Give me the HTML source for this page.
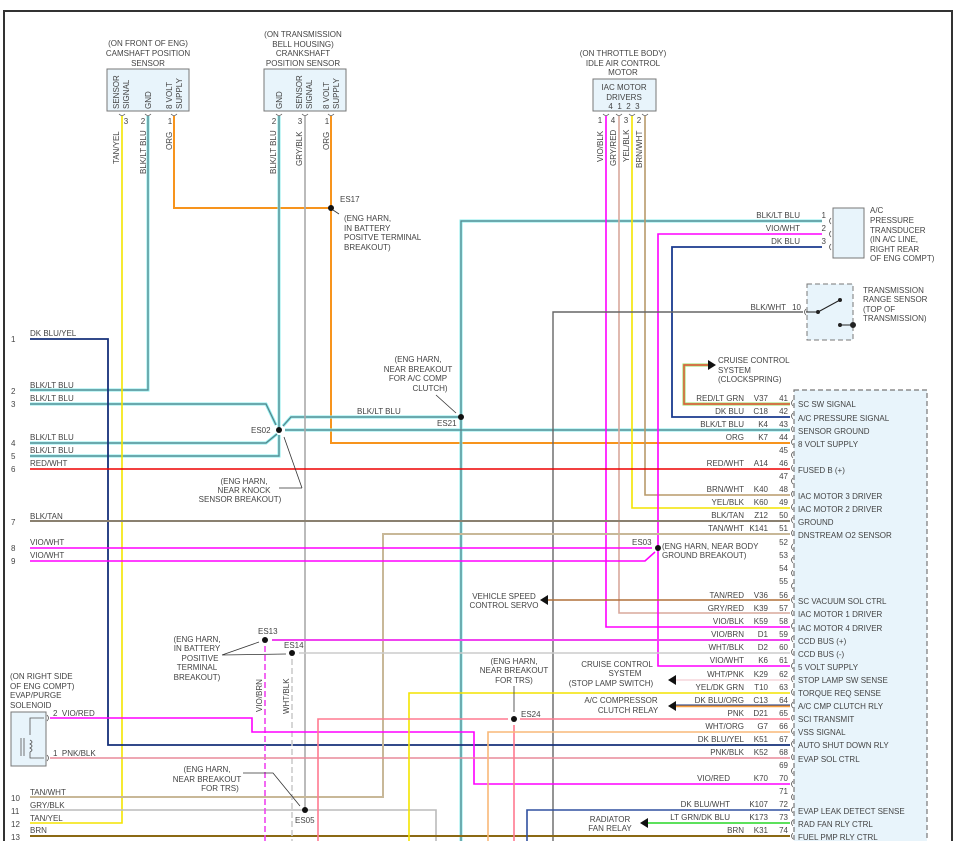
<!DOCTYPE html>
<html><head><meta charset="utf-8"><style>
html,body{margin:0;padding:0;background:#fff}
svg{display:block}
text{font-family:"Liberation Sans",sans-serif;font-size:8px;fill:#444}
</style></head><body>
<svg width="962" height="841" viewBox="0 0 962 841" xmlns="http://www.w3.org/2000/svg">
<rect x="0" y="0" width="962" height="841" fill="#fff"/>
<path d="M4 845 V11 H952 V845" fill="none" stroke="#333" stroke-width="2"/>

<!-- PCM box -->
<rect x="794" y="390" width="133" height="460" fill="#e8f4fb" stroke="#777" stroke-width="1.2" stroke-dasharray="5,3"/>

<!-- sensor boxes -->
<rect x="107" y="69" width="82" height="42" fill="#e8f4fb" stroke="#777"/>
<rect x="264" y="69" width="82" height="42" fill="#e8f4fb" stroke="#777"/>
<rect x="593" y="79" width="63" height="32" fill="#e8f4fb" stroke="#777"/>
<rect x="833" y="208" width="31" height="50" fill="#e8f4fb" stroke="#777"/>
<rect x="807" y="284" width="46" height="56" fill="#e8f4fb" stroke="#777" stroke-dasharray="5,3"/>
<rect x="11" y="712" width="35" height="54" fill="#e8f4fb" stroke="#777"/>

<g fill="none" stroke-linejoin="miter">
<!-- orange -->
<path d="M174 116 V208 H331" stroke="#f7941d" stroke-width="2"/>
<path d="M331 116 V443 H790" stroke="#f7941d" stroke-width="2"/>
<!-- teal BLK/LT BLU -->
<g stroke="#8ee" stroke-width="3">
<path d="M148 116 V390 H30"/><path d="M279 116 V430"/>
<path d="M30 404 H266 L276 425"/><path d="M30 443 H266 L277 434"/><path d="M30 456 H279 V435"/>
<path d="M283 426 L291 417 H461"/><path d="M285 430 H790"/><path d="M461 845 V221 H822"/>
</g>
<g stroke="#5a8088" stroke-width="1.2">
<path d="M148 116 V390 H30"/><path d="M279 116 V430"/>
<path d="M30 404 H266 L276 425"/><path d="M30 443 H266 L277 434"/><path d="M30 456 H279 V435"/>
<path d="M283 426 L291 417 H461"/><path d="M285 430 H790"/><path d="M461 845 V221 H822"/>
</g>
<!-- yellow TAN/YEL -->
<path d="M122 116 V823 H30" stroke="#f4e400" stroke-width="1.6"/>
<!-- gray crank signal -->
<path d="M305 116 V810" stroke="#aaa" stroke-width="1.6"/>
<path d="M30 810 H436 V845" stroke="#bbb" stroke-width="1.6"/>
<!-- IAC wires -->
<path d="M606 116 V627 H790" stroke="#f0f" stroke-width="1.6"/>
<path d="M619 116 V613 H790" stroke="#d9a89c" stroke-width="1.6"/>
<path d="M632 116 V508 H790" stroke="#f4e400" stroke-width="1.6"/>
<path d="M645 116 V495 H790" stroke="#b89a6a" stroke-width="1.6"/>
<!-- AC transducer -->
<path d="M822 234 H658 V666 H790" stroke="#f0f" stroke-width="1.6"/>
<path d="M822 247 H672 V417 H790" stroke="#1a3a8f" stroke-width="1.8"/>
<!-- TRS -->
<path d="M803 312 H553 V845" stroke="#666" stroke-width="1.4"/>
<!-- cruise -->
<path d="M790 404 H684 V365 H708" stroke="#9d6" stroke-width="3"/>
<path d="M790 404 H684 V365 H708" stroke="#e5533d" stroke-width="1.4"/>
<!-- left wires -->
<path d="M30 339 H108 V745 H790" stroke="#16307a" stroke-width="1.8"/>
<path d="M30 469 H790" stroke="#e00" stroke-width="1.4"/>
<path d="M30 521 H790" stroke="#8a8070" stroke-width="2"/>
<path d="M790 534 H383 V797 H30" stroke="#c8b898" stroke-width="2"/>
<path d="M30 548 H652" stroke="#f0f" stroke-width="1.6"/>
<path d="M30 561 H645 L655 552" stroke="#f0f" stroke-width="1.6"/>
<path d="M30 836 H790" stroke="#8b6914" stroke-width="2"/>
<!-- ES13/14 -->
<path d="M272 640 H790" stroke="#e4e" stroke-width="2"/>
<path d="M265 646 V845" stroke="#e4e" stroke-width="1.6" stroke-dasharray="6,3"/>
<path d="M299 653 H790" stroke="#ccc" stroke-width="1.6"/>
<path d="M292 659 V845" stroke="#ccc" stroke-width="1.6" stroke-dasharray="6,3"/>
<!-- EVAP -->
<path d="M50 718 H252 V732 H474 V784 H790" stroke="#f0f" stroke-width="1.6"/>
<path d="M50 758 H790" stroke="#e88a9a" stroke-width="1.6"/>
<!-- others -->
<path d="M790 693 H409 V845" stroke="#f4e400" stroke-width="1.6"/>
<path d="M790 719 H520 M508 719 H318 V845" stroke="#ff7a90" stroke-width="1.6"/>
<path d="M514 725 V845" stroke="#ff7a90" stroke-width="1.6"/>
<path d="M790 732 H488 V845" stroke="#f8b878" stroke-width="1.6"/>
<path d="M790 810 H527 V845" stroke="#3050a0" stroke-width="1.6"/>
<path d="M790 600 H548" stroke="#b0703a" stroke-width="1.6"/>
<path d="M790 680 H676" stroke="#f5d5dc" stroke-width="1.6"/>
<path d="M790 706 H676" stroke="#f8a040" stroke-width="2.4"/>
<path d="M790 705 H676" stroke="#16307a" stroke-width="1"/>
<path d="M790 823 H648" stroke="#4d4" stroke-width="1.8"/>
<!-- pointer lines -->
<path d="M339 214 L333 210" stroke="#333" stroke-width="0.8"/>
<path d="M302 488 L284 437 M279 488 H302" stroke="#333" stroke-width="0.8"/>
<path d="M436 395 L456 413" stroke="#333" stroke-width="0.8"/>
<path d="M222 655 L259 642 M222 655 L286 654" stroke="#333" stroke-width="0.8"/>
<path d="M243 773 H273 L300 806" stroke="#333" stroke-width="0.8"/>
<path d="M514 686 V712" stroke="#333" stroke-width="0.8"/>
</g>
<!-- arrows -->
<g fill="#111">
<polygon points="716,365 708,360 708,370"/>
<polygon points="540,600 548,595 548,605"/>
<polygon points="668,680 676,675 676,685"/>
<polygon points="668,706 676,701 676,711"/>
<polygon points="640,823 648,818 648,828"/>
<circle cx="331" cy="208" r="3"/><circle cx="279" cy="430" r="3"/><circle cx="461" cy="417" r="3"/>
<circle cx="658" cy="548" r="3"/><circle cx="265" cy="640" r="3"/><circle cx="292" cy="653" r="3"/>
<circle cx="305" cy="810" r="3"/><circle cx="514" cy="719" r="3"/>
</g>
<!-- TRS switch -->
<g stroke="#222" fill="#222" stroke-width="1">
<line x1="806" y1="312" x2="818" y2="312"/><line x1="818" y1="312" x2="840" y2="300"/>
<circle cx="818" cy="312" r="1.5"/><circle cx="840" cy="300" r="1.5"/>
<circle cx="840" cy="325" r="1.5"/><line x1="840" y1="325" x2="853" y2="325"/><circle cx="853" cy="325" r="2.5"/>
</g>
<!-- solenoid coil -->
<path d="M44 718 H30 V735 M30 740 q4 2 0 4 q4 2 0 4 q4 2 0 4 M30 752 V758 H44 M24 738 V756 M21 738 V756" fill="none" stroke="#555" stroke-width="0.8"/>

<!-- header texts -->
<g text-anchor="middle">
<text x="148" y="46">(ON FRONT OF ENG)</text><text x="148" y="56">CAMSHAFT POSITION</text><text x="148" y="66">SENSOR</text>
<text x="303" y="37">(ON TRANSMISSION</text><text x="303" y="47">BELL HOUSING)</text><text x="303" y="56">CRANKSHAFT</text><text x="303" y="66">POSITION SENSOR</text>
<text x="623" y="56">(ON THROTTLE BODY)</text><text x="623" y="66">IDLE AIR CONTROL</text><text x="623" y="75">MOTOR</text>
<text x="624" y="90">IAC MOTOR</text><text x="624" y="100">DRIVERS</text><text x="624" y="109">4 &#160;1 &#160;2 &#160;3</text>
<text x="126" y="124">3</text><text x="143" y="124">2</text><text x="170" y="124">1</text>
<text x="274" y="124">2</text><text x="300" y="124">3</text><text x="327" y="124">1</text>
<text x="600" y="123">1</text><text x="613" y="123">4</text><text x="626" y="123">3</text><text x="639" y="123">2</text>
</g>
<g font-size="8">
<text transform="translate(119,109) rotate(-90)">SENSOR</text><text transform="translate(129,109) rotate(-90)">SIGNAL</text>
<text transform="translate(151,109) rotate(-90)">GND</text>
<text transform="translate(172,109) rotate(-90)">8 VOLT</text><text transform="translate(182,109) rotate(-90)">SUPPLY</text>
<text transform="translate(282,109) rotate(-90)">GND</text>
<text transform="translate(302,109) rotate(-90)">SENSOR</text><text transform="translate(312,109) rotate(-90)">SIGNAL</text>
<text transform="translate(329,109) rotate(-90)">8 VOLT</text><text transform="translate(339,109) rotate(-90)">SUPPLY</text>
<text transform="translate(119,164) rotate(-90)">TAN/YEL</text>
<text transform="translate(146,174) rotate(-90)">BLK/LT BLU</text>
<text transform="translate(172,150) rotate(-90)">ORG</text>
<text transform="translate(276,174) rotate(-90)">BLK/LT BLU</text>
<text transform="translate(302,166) rotate(-90)">GRY/BLK</text>
<text transform="translate(329,150) rotate(-90)">ORG</text>
<text transform="translate(603,162) rotate(-90)">VIO/BLK</text>
<text transform="translate(616,166) rotate(-90)">GRY/RED</text>
<text transform="translate(629,162) rotate(-90)">YEL/BLK</text>
<text transform="translate(642,168) rotate(-90)">BRN/WHT</text>
<text transform="translate(262,712) rotate(-90)">VIO/BRN</text>
<text transform="translate(289,714) rotate(-90)">WHT/BLK</text>
</g>
<!-- notes -->
<text x="340" y="202">ES17</text>
<text x="344" y="221">(ENG HARN,</text><text x="344" y="231">IN BATTERY</text><text x="344" y="240">POSITVE TERMINAL</text><text x="344" y="250">BREAKOUT)</text>
<text x="870" y="213">A/C</text><text x="870" y="223">PRESSURE</text><text x="870" y="233">TRANSDUCER</text><text x="870" y="242">(IN A/C LINE,</text><text x="870" y="252">RIGHT REAR</text><text x="870" y="261">OF ENG COMPT)</text>
<text x="863" y="293">TRANSMISSION</text><text x="863" y="302">RANGE SENSOR</text><text x="863" y="312">(TOP OF</text><text x="863" y="321">TRANSMISSION)</text>
<text x="718" y="363">CRUISE CONTROL</text><text x="718" y="373">SYSTEM</text><text x="718" y="382">(CLOCKSPRING)</text>
<g text-anchor="middle">
<text x="418" y="362">(ENG HARN,</text><text x="418" y="372">NEAR BREAKOUT</text><text x="418" y="381">FOR A/C COMP</text><text x="430" y="391">CLUTCH)</text>
<text x="244" y="484">(ENG HARN,</text><text x="244" y="493">NEAR KNOCK</text><text x="240" y="502">SENSOR BREAKOUT)</text>
<text x="197" y="642">(ENG HARN,</text><text x="197" y="651">IN BATTERY</text><text x="200" y="661">POSITIVE</text><text x="197" y="670">TERMINAL</text><text x="197" y="680">BREAKOUT)</text>
<text x="207" y="772">(ENG HARN,</text><text x="207" y="782">NEAR BREAKOUT</text><text x="220" y="791">FOR TRS)</text>
<text x="514" y="664">(ENG HARN,</text><text x="514" y="673">NEAR BREAKOUT</text><text x="514" y="683">FOR TRS)</text>
<text x="504" y="599">VEHICLE SPEED</text><text x="504" y="608">CONTROL SERVO</text>
<text x="617" y="667">CRUISE CONTROL</text><text x="625" y="676">SYSTEM</text><text x="611" y="686">(STOP LAMP SWITCH)</text>
<text x="621" y="703">A/C COMPRESSOR</text><text x="628" y="713">CLUTCH RELAY</text>
<text x="610" y="822">RADIATOR</text><text x="610" y="831">FAN RELAY</text>
</g>
<text x="251" y="433">ES02</text><text x="437" y="426">ES21</text><text x="632" y="545">ES03</text>
<text x="662" y="549">(ENG HARN, NEAR BODY</text><text x="662" y="558">GROUND BREAKOUT)</text>
<text x="258" y="634">ES13</text><text x="284" y="648">ES14</text><text x="295" y="823">ES05</text><text x="521" y="717">ES24</text>
<text x="357" y="414">BLK/LT BLU</text>
<text x="10" y="679">(ON RIGHT SIDE</text><text x="10" y="689">OF ENG COMPT)</text><text x="10" y="698">EVAP/PURGE</text><text x="10" y="708">SOLENOID</text>
<text x="53" y="716">2 &#160;VIO/RED</text><text x="53" y="756">1 &#160;PNK/BLK</text>
<!-- left numbers & labels -->
<g>
<text x="11" y="342">1</text><text x="30" y="336">DK BLU/YEL</text>
<text x="11" y="394">2</text><text x="30" y="388">BLK/LT BLU</text>
<text x="11" y="407">3</text><text x="30" y="401">BLK/LT BLU</text>
<text x="11" y="446">4</text><text x="30" y="440">BLK/LT BLU</text>
<text x="11" y="459">5</text><text x="30" y="453">BLK/LT BLU</text>
<text x="11" y="472">6</text><text x="30" y="466">RED/WHT</text>
<text x="11" y="525">7</text><text x="30" y="519">BLK/TAN</text>
<text x="11" y="551">8</text><text x="30" y="545">VIO/WHT</text>
<text x="11" y="564">9</text><text x="30" y="558">VIO/WHT</text>
<text x="11" y="801">10</text><text x="30" y="795">TAN/WHT</text>
<text x="11" y="814">11</text><text x="30" y="808">GRY/BLK</text>
<text x="11" y="827">12</text><text x="30" y="821">TAN/YEL</text>
<text x="11" y="840">13</text><text x="30" y="833">BRN</text>
</g>
<!-- AC/TRS pin labels -->
<g text-anchor="end">
<text x="800" y="218">BLK/LT BLU</text><text x="826" y="218">1</text>
<text x="800" y="231">VIO/WHT</text><text x="826" y="231">2</text>
<text x="800" y="244">DK BLU</text><text x="826" y="244">3</text>
<text x="786" y="310">BLK/WHT</text><text x="801" y="310">10</text>
</g>
<!-- PCM rows -->
<g text-anchor="end">
<text x="744" y="401">RED/LT GRN</text><text x="768" y="401">V37</text><text x="788" y="401">41</text>
<text x="744" y="414">DK BLU</text><text x="768" y="414">C18</text><text x="788" y="414">42</text>
<text x="744" y="427">BLK/LT BLU</text><text x="768" y="427">K4</text><text x="788" y="427">43</text>
<text x="744" y="440">ORG</text><text x="768" y="440">K7</text><text x="788" y="440">44</text>
<text x="788" y="453">45</text>
<text x="744" y="466">RED/WHT</text><text x="768" y="466">A14</text><text x="788" y="466">46</text>
<text x="788" y="479">47</text>
<text x="744" y="492">BRN/WHT</text><text x="768" y="492">K40</text><text x="788" y="492">48</text>
<text x="744" y="505">YEL/BLK</text><text x="768" y="505">K60</text><text x="788" y="505">49</text>
<text x="744" y="518">BLK/TAN</text><text x="768" y="518">Z12</text><text x="788" y="518">50</text>
<text x="744" y="531">TAN/WHT</text><text x="768" y="531">K141</text><text x="788" y="531">51</text>
<text x="788" y="545">52</text><text x="788" y="558">53</text><text x="788" y="571">54</text><text x="788" y="584">55</text>
<text x="744" y="598">TAN/RED</text><text x="768" y="598">V36</text><text x="788" y="598">56</text>
<text x="744" y="611">GRY/RED</text><text x="768" y="611">K39</text><text x="788" y="611">57</text>
<text x="744" y="624">VIO/BLK</text><text x="768" y="624">K59</text><text x="788" y="624">58</text>
<text x="744" y="637">VIO/BRN</text><text x="768" y="637">D1</text><text x="788" y="637">59</text>
<text x="744" y="650">WHT/BLK</text><text x="768" y="650">D2</text><text x="788" y="650">60</text>
<text x="744" y="663">VIO/WHT</text><text x="768" y="663">K6</text><text x="788" y="663">61</text>
<text x="744" y="677">WHT/PNK</text><text x="768" y="677">K29</text><text x="788" y="677">62</text>
<text x="744" y="690">YEL/DK GRN</text><text x="768" y="690">T10</text><text x="788" y="690">63</text>
<text x="744" y="703">DK BLU/ORG</text><text x="768" y="703">C13</text><text x="788" y="703">64</text>
<text x="744" y="716">PNK</text><text x="768" y="716">D21</text><text x="788" y="716">65</text>
<text x="744" y="729">WHT/ORG</text><text x="768" y="729">G7</text><text x="788" y="729">66</text>
<text x="744" y="742">DK BLU/YEL</text><text x="768" y="742">K51</text><text x="788" y="742">67</text>
<text x="744" y="755">PNK/BLK</text><text x="768" y="755">K52</text><text x="788" y="755">68</text>
<text x="788" y="768">69</text>
<text x="730" y="781">VIO/RED</text><text x="768" y="781">K70</text><text x="788" y="781">70</text>
<text x="788" y="794">71</text>
<text x="730" y="807">DK BLU/WHT</text><text x="768" y="807">K107</text><text x="788" y="807">72</text>
<text x="730" y="820">LT GRN/DK BLU</text><text x="768" y="820">K173</text><text x="788" y="820">73</text>
<text x="744" y="833">BRN</text><text x="768" y="833">K31</text><text x="788" y="833">74</text>
</g>
<g>
<text x="798" y="407">SC SW SIGNAL</text>
<text x="798" y="421">A/C PRESSURE SIGNAL</text>
<text x="798" y="434">SENSOR GROUND</text>
<text x="798" y="447">8 VOLT SUPPLY</text>
<text x="798" y="473">FUSED B (+)</text>
<text x="798" y="499">IAC MOTOR 3 DRIVER</text>
<text x="798" y="512">IAC MOTOR 2 DRIVER</text>
<text x="798" y="525">GROUND</text>
<text x="798" y="538">DNSTREAM O2 SENSOR</text>
<text x="798" y="604">SC VACUUM SOL CTRL</text>
<text x="798" y="617">IAC MOTOR 1 DRIVER</text>
<text x="798" y="631">IAC MOTOR 4 DRIVER</text>
<text x="798" y="644">CCD BUS (+)</text>
<text x="798" y="657">CCD BUS (-)</text>
<text x="798" y="670">5 VOLT SUPPLY</text>
<text x="798" y="683">STOP LAMP SW SENSE</text>
<text x="798" y="696">TORQUE REQ SENSE</text>
<text x="798" y="709">A/C CMP CLUTCH RLY</text>
<text x="798" y="722">SCI TRANSMIT</text>
<text x="798" y="735">VSS SIGNAL</text>
<text x="798" y="748">AUTO SHUT DOWN RLY</text>
<text x="798" y="762">EVAP SOL CTRL</text>
<text x="798" y="814">EVAP LEAK DETECT SENSE</text>
<text x="798" y="827">RAD FAN RLY CTRL</text>
<text x="798" y="840">FUEL PMP RLY CTRL</text>
</g>
<!-- connector arcs on PCM -->
<g fill="none" stroke="#555" stroke-width="0.8">
<path d="M793 400 q-3 3 0 6 M793 413 q-3 3 0 6 M793 426 q-3 3 0 6 M793 439 q-3 3 0 6 M793 452 q-3 3 0 6 M793 465 q-3 3 0 6 M793 478 q-3 3 0 6 M793 491 q-3 3 0 6 M793 504 q-3 3 0 6 M793 517 q-3 3 0 6 M793 530 q-3 3 0 6 M793 544 q-3 3 0 6 M793 557 q-3 3 0 6 M793 570 q-3 3 0 6 M793 583 q-3 3 0 6 M793 597 q-3 3 0 6 M793 610 q-3 3 0 6 M793 623 q-3 3 0 6 M793 636 q-3 3 0 6 M793 649 q-3 3 0 6 M793 663 q-3 3 0 6 M793 676 q-3 3 0 6 M793 689 q-3 3 0 6 M793 702 q-3 3 0 6 M793 715 q-3 3 0 6 M793 728 q-3 3 0 6 M793 741 q-3 3 0 6 M793 754 q-3 3 0 6 M793 768 q-3 3 0 6 M793 781 q-3 3 0 6 M793 794 q-3 3 0 6 M793 807 q-3 3 0 6 M793 820 q-3 3 0 6 M793 833 q-3 3 0 6"/>
<path d="M831 218 q-3 3 0 6 M831 231 q-3 3 0 6 M831 244 q-3 3 0 6 M806 309 q-3 3 0 6"/>
<path d="M119 114 q3 3 6 0 M145 114 q3 3 6 0 M171 114 q3 3 6 0 M276 114 q3 3 6 0 M302 114 q3 3 6 0 M328 114 q3 3 6 0 M603 114 q3 3 6 0 M616 114 q3 3 6 0 M629 114 q3 3 6 0 M642 114 q3 3 6 0"/>
<path d="M47 715 q3 3 0 6 M47 755 q3 3 0 6"/>
</g>
</svg>
</body></html>
